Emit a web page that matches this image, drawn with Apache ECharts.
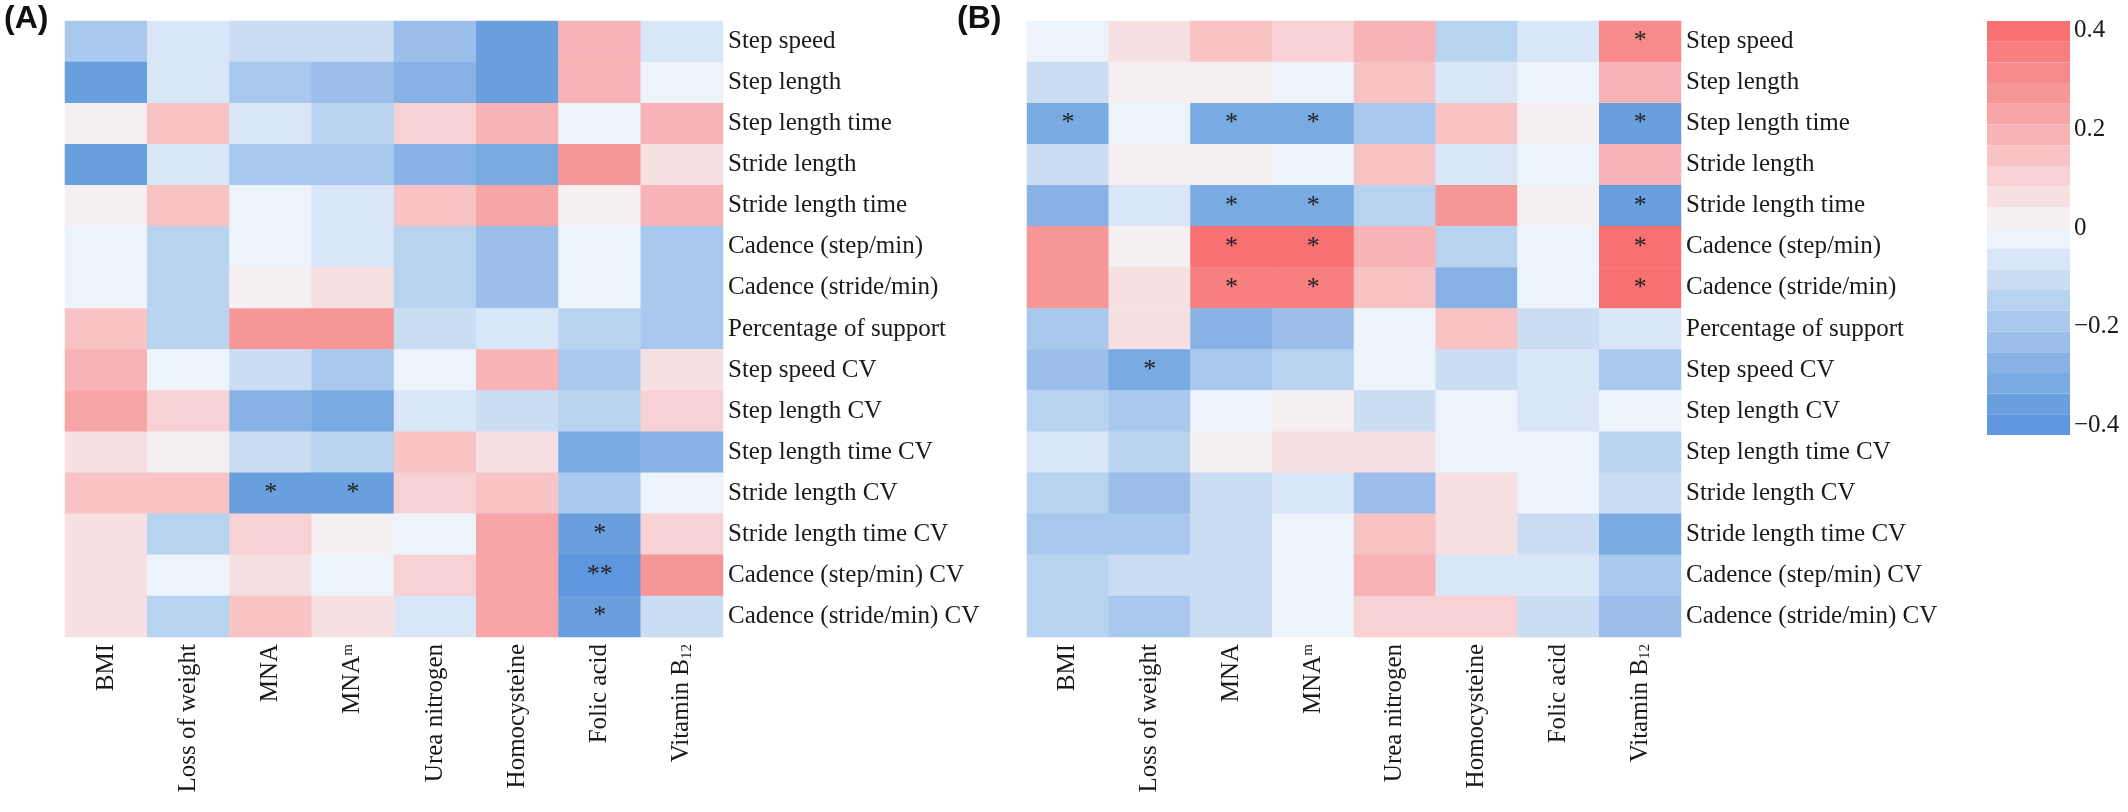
<!DOCTYPE html>
<html>
<head>
<meta charset="utf-8">
<script src="https://cdn.jsdelivr.net/npm/echarts@6/dist/echarts.min.js"></script>
<style>
html,body{margin:0;padding:0;background:#fff;}
#chart{width:2128px;height:812px;}
</style>
</head>
<body>
<div id="chart"></div>
<script>
// ---- categories ----
const xCategories = ['BMI', 'Loss of weight', 'MNA', 'MNAm', 'Urea nitrogen', 'Homocysteine', 'Folic acid', 'Vitamin B12'];
const yCategories = ['Step speed', 'Step length', 'Step length time', 'Stride length', 'Stride length time',
  'Cadence (step/min)', 'Cadence (stride/min)', 'Percentage of support', 'Step speed CV', 'Step length CV',
  'Step length time CV', 'Stride length CV', 'Stride length time CV', 'Cadence (step/min) CV', 'Cadence (stride/min) CV'];

// ---- panel A correlations (rows = gait parameters, cols = nutrition indicators) ----
const valuesA = [
  [-0.19, -0.06, -0.11, -0.11, -0.23, -0.36,  0.19, -0.06],
  [-0.36, -0.06, -0.19, -0.23, -0.27, -0.37,  0.19, -0.02],
  [ 0.02,  0.15, -0.06, -0.15,  0.11,  0.19, -0.02,  0.19],
  [-0.37, -0.06, -0.19, -0.19, -0.27, -0.31,  0.27,  0.06],
  [ 0.02,  0.15, -0.02, -0.06,  0.15,  0.23,  0.02,  0.19],
  [-0.02, -0.15, -0.02, -0.06, -0.15, -0.23, -0.02, -0.19],
  [-0.02, -0.15,  0.02,  0.06, -0.15, -0.23, -0.02, -0.19],
  [ 0.15, -0.15,  0.28,  0.28, -0.11, -0.06, -0.15, -0.19],
  [ 0.19, -0.02, -0.11, -0.19, -0.02,  0.19, -0.19,  0.06],
  [ 0.23,  0.11, -0.27, -0.31, -0.06, -0.11, -0.15,  0.11],
  [ 0.06,  0.02, -0.11, -0.15,  0.15,  0.06, -0.31, -0.27],
  [ 0.15,  0.15, -0.36, -0.36,  0.11,  0.15, -0.19, -0.02],
  [ 0.06, -0.15,  0.11,  0.02, -0.02,  0.23, -0.35,  0.11],
  [ 0.06, -0.02,  0.06, -0.02,  0.11,  0.23, -0.40,  0.28],
  [ 0.06, -0.15,  0.15,  0.06, -0.06,  0.23, -0.36, -0.11]
];
const sigA = [
  ['', '', '', '', '', '', '', ''],
  ['', '', '', '', '', '', '', ''],
  ['', '', '', '', '', '', '', ''],
  ['', '', '', '', '', '', '', ''],
  ['', '', '', '', '', '', '', ''],
  ['', '', '', '', '', '', '', ''],
  ['', '', '', '', '', '', '', ''],
  ['', '', '', '', '', '', '', ''],
  ['', '', '', '', '', '', '', ''],
  ['', '', '', '', '', '', '', ''],
  ['', '', '', '', '', '', '', ''],
  ['', '', '*', '*', '', '', '', ''],
  ['', '', '', '', '', '', '*', ''],
  ['', '', '', '', '', '', '**', ''],
  ['', '', '', '', '', '', '*', '']
];

// ---- panel B correlations ----
const valuesB = [
  [-0.02,  0.06,  0.15,  0.11,  0.19, -0.15, -0.06,  0.31],
  [-0.11,  0.02,  0.02, -0.02,  0.15, -0.06, -0.02,  0.19],
  [-0.32, -0.02, -0.32, -0.32, -0.19,  0.15,  0.02, -0.35],
  [-0.11,  0.02,  0.02, -0.02,  0.15, -0.06, -0.02,  0.19],
  [-0.27, -0.06, -0.32, -0.32, -0.15,  0.28,  0.02, -0.34],
  [ 0.28,  0.02,  0.39,  0.39,  0.19, -0.15, -0.02,  0.39],
  [ 0.28,  0.06,  0.35,  0.35,  0.15, -0.27, -0.02,  0.39],
  [-0.19,  0.06, -0.27, -0.23, -0.02,  0.15, -0.11, -0.06],
  [-0.23, -0.32, -0.19, -0.15, -0.02, -0.11, -0.06, -0.19],
  [-0.15, -0.19, -0.02,  0.02, -0.11, -0.02, -0.06, -0.02],
  [-0.06, -0.15,  0.02,  0.06,  0.06, -0.02, -0.02, -0.15],
  [-0.15, -0.23, -0.11, -0.06, -0.23,  0.06, -0.02, -0.11],
  [-0.19, -0.19, -0.11, -0.02,  0.15,  0.06, -0.11, -0.31],
  [-0.15, -0.11, -0.11, -0.02,  0.19, -0.06, -0.06, -0.19],
  [-0.15, -0.19, -0.11, -0.02,  0.11,  0.11, -0.11, -0.23]
];
const sigB = [
  ['', '', '', '', '', '', '', '*'],
  ['', '', '', '', '', '', '', ''],
  ['*', '', '*', '*', '', '', '', '*'],
  ['', '', '', '', '', '', '', ''],
  ['', '', '*', '*', '', '', '', '*'],
  ['', '', '*', '*', '', '', '', '*'],
  ['', '', '*', '*', '', '', '', '*'],
  ['', '', '', '', '', '', '', ''],
  ['', '*', '', '', '', '', '', ''],
  ['', '', '', '', '', '', '', ''],
  ['', '', '', '', '', '', '', ''],
  ['', '', '', '', '', '', '', ''],
  ['', '', '', '', '', '', '', ''],
  ['', '', '', '', '', '', '', ''],
  ['', '', '', '', '', '', '', '']
];

// ---- colour scale ----
const scaleMin = -0.42, scaleMax = 0.42, scaleSteps = 20;
const scaleColors = [
  '#5F96DD', '#6A9FDD', '#7AAAE2', '#88B2E5', '#9BBFEA', '#A8C8EE', '#B8D3F0', '#CADDF3', '#D8E6F7', '#EDF3FB',
  '#F6EFF2', '#F6E0E2', '#F7D1D4', '#F7C3C5', '#F7B3B5', '#F7A5A7', '#F79697', '#F78A8C', '#F77F80', '#F77172'
];
const tickValues = [-0.4, -0.2, 0, 0.2, 0.4];

function buildData(vals, sig) {
  const out = [];
  vals.forEach((row, r) => row.forEach((v, c) => out.push({ value: [c, r, v], sig: sig[r][c] })));
  return out;
}
const pieces = [];
for (let i = 0; i < scaleSteps; i++) {
  const lo = scaleMin + (scaleMax - scaleMin) * i / scaleSteps;
  const hi = scaleMin + (scaleMax - scaleMin) * (i + 1) / scaleSteps;
  const p = { gte: lo, color: scaleColors[i] };
  if (i === scaleSteps - 1) p.lte = hi; else p.lt = hi;
  pieces.push(p);
}

const serif = 'Liberation Serif, Times New Roman, serif';
function xLabelFmt(v) {
  if (v === 'MNAm') return 'MNA{sup|m}';
  if (v === 'Vitamin B12') return 'Vitamin B{sub|12}';
  return v;
}
const xLabelRich = {
  sup: { fontSize: 15, verticalAlign: 'top', fontFamily: serif, color: '#1a1a1a' },
  sub: { fontSize: 15, verticalAlign: 'bottom', fontFamily: serif, color: '#1a1a1a' }
};

const grids = [
  { left: 65, top: 21, width: 658, height: 616 },
  { left: 1027, top: 21, width: 654, height: 616 },
  { left: 1987, top: 21, width: 83, height: 414 }
];

function catX(gi) {
  return {
    type: 'category', gridIndex: gi, data: xCategories, position: 'bottom',
    axisLine: { show: false }, axisTick: { show: false }, splitLine: { show: false },
    axisLabel: { interval: 0, rotate: 90, margin: 7, fontSize: 25, fontFamily: serif, color: '#1a1a1a',
      formatter: xLabelFmt, rich: xLabelRich }
  };
}
function catY(gi) {
  return {
    type: 'category', gridIndex: gi, data: yCategories, inverse: true, position: 'right',
    axisLine: { show: false }, axisTick: { show: false }, splitLine: { show: false },
    axisLabel: { interval: 0, margin: 5, fontSize: 25, fontFamily: serif, color: '#1a1a1a' }
  };
}
function heat(gi, data) {
  return {
    type: 'heatmap', xAxisIndex: gi, yAxisIndex: gi, data: data,
    itemStyle: { borderWidth: 0 },
    emphasis: { disabled: true },
    label: {
      show: true, position: 'inside', color: '#222', fontSize: 26, fontFamily: serif,
      formatter: p => p.data.sig
    }
  };
}

const chart = echarts.init(document.getElementById('chart'), null, { renderer: 'canvas' });
chart.setOption({
  backgroundColor: '#ffffff',
  animation: false,
  title: [
    { text: '(A)', left: 4, top: 3, padding: 0,
      textStyle: { fontSize: 32, fontWeight: 'bold', fontFamily: 'Liberation Sans, Arial, sans-serif', color: '#111' } },
    { text: '(B)', left: 957, top: 3, padding: 0,
      textStyle: { fontSize: 32, fontWeight: 'bold', fontFamily: 'Liberation Sans, Arial, sans-serif', color: '#111' } }
  ],
  grid: grids,
  xAxis: [catX(0), catX(1), { type: 'value', gridIndex: 2, show: false, min: 0, max: 1 }],
  yAxis: [catY(0), catY(1), {
    type: 'value', gridIndex: 2, min: scaleMin, max: scaleMax, position: 'right',
    axisLine: { show: false }, axisTick: { show: false }, splitLine: { show: false },
    axisLabel: {
      customValues: tickValues, margin: 4, fontSize: 25, fontFamily: serif, color: '#1a1a1a',
      formatter: v => (v < 0 ? '\u2212' + Math.abs(v).toFixed(1) : (v === 0 ? '0' : v.toFixed(1)))
    }
  }],
  visualMap: {
    type: 'piecewise', pieces: pieces, orient: 'vertical', left: 1987, top: 21, padding: 0,
    itemWidth: 83, itemHeight: 414 / scaleSteps, itemGap: 0, itemSymbol: 'rect',
    showLabel: false, selectedMode: false, hoverLink: false, seriesIndex: [0, 1]
  },
  series: [heat(0, buildData(valuesA, sigA)), heat(1, buildData(valuesB, sigB))]
});
</script>
</body>
</html>
